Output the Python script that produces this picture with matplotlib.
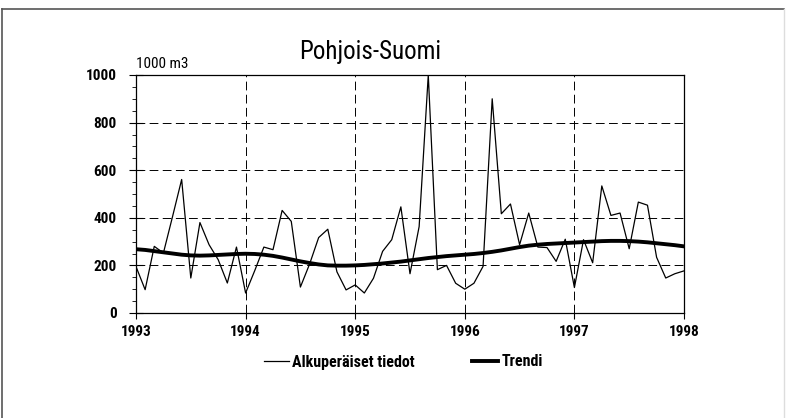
import numpy as np
import matplotlib
matplotlib.use("Agg")
import matplotlib.pyplot as plt
from matplotlib.lines import Line2D

plt.rcParams["font.family"] = ["Roboto Condensed", "DejaVu Sans"]

# ── data (monthly, Jan 1993 .. Jan 1998) ──────────────────────────────────────
years_start = 1993
months = np.arange(61)

original = [195, 98, 280, 252, 405, 561, 147, 380, 287, 224, 126, 277,
            84, 178, 277, 266, 431, 385, 109, 205, 317, 352, 173, 97,
            118, 84, 146, 259, 308, 446, 165, 363, 1000, 182, 200, 125,
            100, 125, 196, 900, 417, 458, 287, 420, 277, 275, 217, 310,
            107, 308, 211, 534, 410, 420, 270, 466, 453, 234, 147, 165, 177]

trend = [268, 265, 260, 255, 250, 245, 242, 241, 242, 244, 246, 248,
         249, 248, 245, 240, 233, 225, 217, 210, 204, 200, 199, 199,
         200, 202, 205, 208, 212, 216, 221, 226, 231, 235, 239, 242,
         245, 248, 252, 257, 263, 270, 277, 283, 287, 290, 292, 294,
         296, 298, 300, 302, 303, 303, 302, 300, 297, 293, 289, 285,
         280]

x = years_start + months / 12.0
year_ticks = [1993, 1994, 1995, 1996, 1997, 1998]
y_ticks = [0, 200, 400, 600, 800, 1000]

# ── figure ────────────────────────────────────────────────────────────────────
fig = plt.figure(figsize=(7.87, 4.18), dpi=100)
ax = fig.add_axes([136 / 787, 1 - 313 / 418, 548 / 787, 238 / 418])

ax.plot(x, original, color="black", lw=0.9, label="Alkuperäiset tiedot")
ax.plot(x, trend, color="black", lw=2.8, label="Trendi")

ax.set_xlim(1993, 1998)
ax.set_ylim(0, 1000)
ax.set_xticks(year_ticks)
ax.set_xticklabels([str(y) for y in year_ticks], fontsize=11, fontweight="bold")
ax.set_yticks(y_ticks)
ax.set_yticklabels([str(v) for v in y_ticks], fontsize=11, fontweight="bold")
ax.set_yticks(np.arange(0, 1001, 50), minor=True)
ax.tick_params(axis="y", which="major", length=10, width=0.8, direction="inout", pad=9)
ax.tick_params(axis="y", which="minor", length=3, width=0.6, direction="out")
ax.tick_params(axis="x", which="major", length=4, width=0.8, direction="out", pad=5)

for v in [200, 400, 600, 800]:
    ax.axhline(v, color="black", lw=0.7, ls=(0, (9, 4.5)), zorder=0)
for yr in [1994, 1995, 1996, 1997]:
    ax.axvline(yr, color="black", lw=0.7, ls=(0, (9, 4.5)), zorder=0)

for s in ax.spines.values():
    s.set_linewidth(0.9)

ax.text(0.0, 1.015, "1000 m3", transform=ax.transAxes, fontsize=11,
        ha="left", va="bottom")
fig.text(370 / 787, 1 - 52 / 418, "Pohjois-Suomi", fontsize=18,
         ha="center", va="center")

handles = [Line2D([], [], color="black", lw=0.9),
           Line2D([], [], color="black", lw=2.8)]
fig.legend(handles, ["Alkuperäiset tiedot", "Trendi"], loc="center",
           bbox_to_anchor=(403 / 787, 1 - 362 / 418), ncol=2, frameon=False,
           prop={"size": 11.5, "weight": "bold"}, handlelength=1.6,
           handletextpad=0.2, columnspacing=3.6)

# outer frame of the page
fig.add_artist(Line2D([2 / 787, 2 / 787], [0, 1 - 9 / 418], color="#555555",
                      lw=1.2, transform=fig.transFigure))
fig.add_artist(Line2D([2 / 787, 784 / 787], [1 - 9 / 418, 1 - 9 / 418],
                      color="#555555", lw=1.2, transform=fig.transFigure))
fig.add_artist(Line2D([784 / 787, 784 / 787], [0, 1 - 9 / 418], color="#dddddd",
                      lw=1.0, transform=fig.transFigure))

fig.savefig("out.png", dpi=100)
